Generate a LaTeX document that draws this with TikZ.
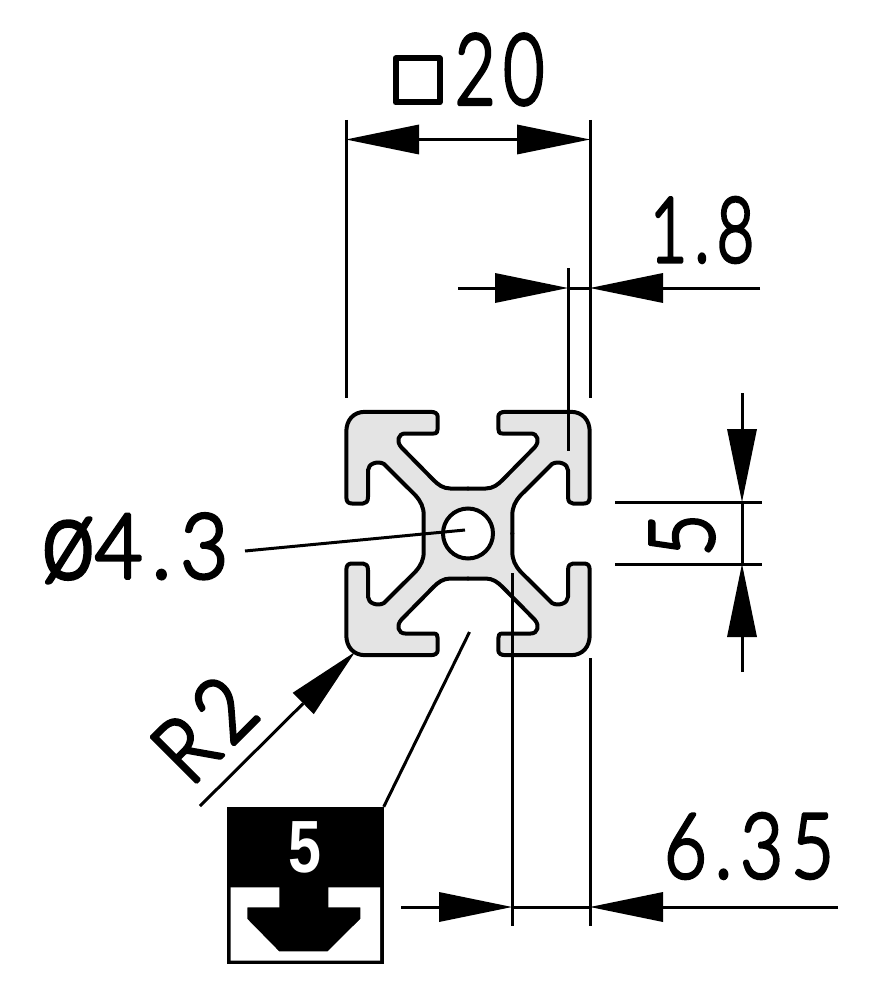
\documentclass[tikz,border=0pt]{standalone}
\usepackage{fontspec}
\usepackage{graphicx}
\setmainfont{Lato}[UprightFont={* Light},UprightFeatures={FakeBold=4,LetterSpace=11}]
\newfontfamily\boldf{Liberation Sans}[BoldFont={* Bold}]
\usetikzlibrary{arrows.meta}
\definecolor{profilefill}{HTML}{E4E4E4}
\tikzset{
  thin line/.style={line width=3pt,line cap=butt},
  dimtip/.tip={Triangle[length=73pt,width=30pt,line width=0pt]},
  dim/.style={thin line,-{dimtip}},
  dimboth/.style={thin line,{dimtip}-{dimtip}},
  dimtext/.style={inner sep=0pt,font=\fontsize{90}{90}\selectfont\pgfsetroundjoin},
  outline/.style={line width=4pt,line join=round,line cap=round},
}
\newcommand{\nar}[2][0.82]{\scalebox{#1}[1]{#2}}
\def\quadpath{(0,-45) -- (-17.7,-45) .. controls (-25,-45) and (-30,-49) .. (-34.3,-53.3) -- (-66.5,-86) .. controls (-72,-92) and (-70,-100) .. (-62.7,-100) -- (-34.3,-100) .. controls (-31,-100) and (-30.3,-102) .. (-30.3,-105) -- (-30.3,-116.7) .. controls (-30.3,-120) and (-33,-121.7) .. (-37.7,-121.7) -- (-102.7,-121.7) .. controls (-115,-121.7) and (-121.7,-113) .. (-121.7,-101.7) -- (-121.7,-36.7) .. controls (-121.7,-32) and (-120,-30) .. (-116,-30) -- (-105,-30) .. controls (-102,-30) and (-100,-32) .. (-100,-36.7) -- (-100,-63.3) .. controls (-100,-70) and (-90,-73) .. (-84,-69.5) -- (-52.7,-38.3) .. controls (-47,-32) and (-44.3,-26) .. (-44.3,-18.3) -- (-44.3,0)}
\begin{document}
\begin{tikzpicture}[x=1pt,y=-1pt]
\useasboundingbox (0,0) rectangle (883,995);
\fill[white] (0,0) rectangle (883,995);
% profile
\foreach \sx/\sy in {1/1,-1/1,1/-1,-1/-1}{
  \begin{scope}[shift={(468,533.5)},xscale=\sx,yscale=\sy]
    \fill[profilefill,draw=profilefill,line width=1pt] \quadpath -- (0,0) -- cycle;
  \end{scope}}
\foreach \sx/\sy in {1/1,-1/1,1/-1,-1/-1}{
  \begin{scope}[shift={(468,533.5)},xscale=\sx,yscale=\sy]
    \draw[outline] \quadpath;
  \end{scope}}
\node[circle,draw,fill=white,line width=4pt,minimum size=50pt,inner sep=0pt] (hole) at (468,533.5) {};
% 20
\coordinate (a1) at (346,139.5); \coordinate (a2) at (590,139.5);
\draw[thin line] (346,120) -- (346,398);
\draw[thin line] (590,120) -- (590,398);
\draw[dimboth] (a1) -- (a2);
\node[draw,line width=6pt,line join=round,minimum size=44pt,inner sep=0pt] (sq) at (417.5,80.5) {};
\node[dimtext,font=\fontsize{98}{98}\selectfont\pgfsetroundjoin] (t20) at (499.5,69.5) {\nar[0.72]{20}};
% 1.8
\coordinate (b1) at (458,288); \coordinate (b2) at (568,288);
\coordinate (b3) at (760,288); \coordinate (b4) at (590,288);
\draw[thin line] (568,268) -- (568,451);
\draw[thin line] (b2) -- (b4);
\draw[dim] (b1) -- (b2);
\draw[dim] (b3) -- (b4);
\node[dimtext] (t18) at (702,230) {\nar[0.72]{1.8}};
% 5
\coordinate (c1) at (742,393); \coordinate (c2) at (742,502);
\coordinate (c3) at (742,672); \coordinate (c4) at (742,564);
\draw[thin line] (615,502) -- (762,502);
\draw[thin line] (615,564) -- (762,564);
\draw[thin line] (c2) -- (c4);
\draw[dim] (c1) -- (c2);
\draw[dim] (c3) -- (c4);
\node[dimtext,rotate=90] (t5) at (682,535) {\nar{5}};
% phi 4.3
\node[dimtext] (t43) at (135,548) {{\fontsize{112}{112}\selectfont\nar[0.85]{ø}}\nar[0.92]{4.3}};
\coordinate (d1) at (245,551); \coordinate (d2) at (465,530);
\draw[thin line] (d1) -- (d2);
% R2
\coordinate (e1) at (200,806); \coordinate (e2) at (355,652);
\draw[dim] (e1) -- (e2);
\node[dimtext,rotate=45] (tr2) at (204,729) {\nar[0.88]{R2}};
% box
\node[fill=black,minimum size=157pt,inner sep=0pt] (box) at (305,885.5) {};
\fill[white] (230.7,887.3) -- (279.3,887.3) -- (279.3,907.3) -- (247.3,907.3) -- (247.3,919) -- (279,951.3) -- (327.7,951.3) -- (360.3,919) -- (360.3,907.3) -- (328.3,907.3) -- (328.3,887.3) -- (380,887.3) -- (380,960.7) -- (230.7,960.7) -- cycle;
\node[text=white,inner sep=0pt,font=\boldf\bfseries\fontsize{74}{74}\selectfont] (t5b) at (305,847) {\scalebox{0.8}[1]{5}};
\coordinate (f1) at (469.5,632);
\draw[thin line] (f1) -- (box.north east);
% 6.35
\coordinate (g1) at (401,907); \coordinate (g2) at (512,907);
\coordinate (g3) at (838,907); \coordinate (g4) at (590,907);
\draw[thin line] (512,573) -- (512,926);
\draw[thin line] (590,658) -- (590,926);
\draw[thin line] (g2) -- (g4);
\draw[dim] (g1) -- (g2);
\draw[dim] (g3) -- (g4);
\node[dimtext] (t635) at (749,846) {\nar{6.35}};
\end{tikzpicture}
\end{document}
